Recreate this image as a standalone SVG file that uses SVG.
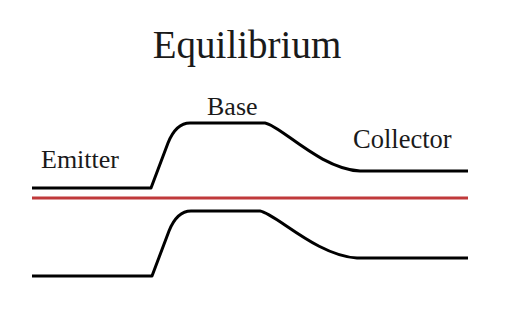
<svg xmlns="http://www.w3.org/2000/svg" width="508" height="336" viewBox="0 0 508 336">
<style>
text{font-family:"Liberation Serif","Times New Roman",serif;fill:#1a1a1a}
.band{fill:none;stroke:#000;stroke-width:3;stroke-linejoin:round;stroke-linecap:butt}
.fermi{fill:none;stroke:#c0393b;stroke-width:3}
</style>
<rect width="508" height="336" fill="#fff"/>
<g id="title"><text x="247" y="58" font-size="39" text-anchor="middle">Equilibrium</text></g>
<g id="emitter"><text x="41" y="168" font-size="26">Emitter</text></g>
<g id="base"><text x="207" y="115" font-size="26">Base</text></g>
<g id="collector"><text x="353" y="148" font-size="26.5">Collector</text></g>
<g id="connectors">
<path id="conduction-band" class="band" d="M32,188 L151,188 L168,143 Q176,123 190,123 L265,123 C280,125 320,169 360,171 L468,171"/>
<path id="fermi-level" class="fermi" d="M32,198 L468,198"/>
<path id="valence-band" class="band" d="M32,276 L152,276 L169,231 Q177,211 191,211 L260,211 C275,213 317,256 357,258 L468,258"/>
</g>
</svg>
